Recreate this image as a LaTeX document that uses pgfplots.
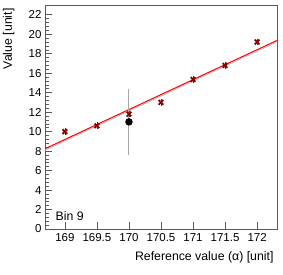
\documentclass[border=0pt]{standalone}
\usepackage{pgfplots}
\pgfplotsset{compat=1.18}
\usepackage{fontspec}
\setmainfont{Liberation Sans}
\begin{document}
\begin{tikzpicture}
\path[use as bounding box] (0pt,0pt) rectangle (283pt,274pt);
\begin{axis}[
  at={(45pt,45pt)}, anchor=south west,
  width=232pt, height=224pt, scale only axis,
  xmin=168.69, xmax=172.31, ymin=0, ymax=23,
  xtick={169,169.5,...,172}, ytick={0,2,...,22},
  minor y tick num=4,
  xticklabels={169,169.5,170,170.5,171,171.5,172},
  tick align=inside, tick pos=left,
  major tick length=7pt, minor tick length=3.5pt,
  axis line style={gray!70!black, line width=0.8pt},
  tick style={gray!70!black, line width=0.6pt},
  /pgf/number format/assume math mode=true,
  ticklabel style={font=\fontsize{11.5}{12}\selectfont},
  xticklabel style={yshift=-1pt},
  xlabel={Reference value (α) [unit]},
  ylabel={Value [unit]},
  label style={font=\fontsize{12.3}{13}\selectfont},
  xlabel style={at={(axis description cs:1,0)}, anchor=north east, yshift=-19pt},
  ylabel style={at={(axis description cs:0,1)}, anchor=south east, rotate=0, yshift=27pt},
  clip=true,
]
\addplot[gray!50, line width=1pt, forget plot] coordinates {(168.69,8.10) (172.31,19.22)};
\addplot[red, line width=1pt] coordinates {(168.69,8.24) (172.31,19.36)};
\addplot[gray!70, line width=1pt, mark=*, mark size=3.2pt, mark options={fill=black, draw=black},
  error bars/.cd, y dir=both, y explicit, error bar style={gray!70, line width=1pt}, error mark=none]
  coordinates {(170,11.0) +- (0,3.4)};
\addplot[only marks, mark=x, mark size=3.3pt, mark options={line width=1.8pt, draw=red!55!black},
  error bars/.cd, y dir=both, y explicit, error bar style={red!70!black, line width=0.6pt}, error mark=none]
  coordinates {
  (169,10.0) +- (0,0.35)
  (169.5,10.6) +- (0,0.35)
  (170,11.8) +- (0,0.35)
  (170.5,13.0) +- (0,0.35)
  (171,15.35) +- (0,0.35)
  (171.5,16.8) +- (0,0.35)
  (172,19.2) +- (0,0.35)
  };
\node[anchor=base west, font=\fontsize{12.3}{13}\selectfont] at (axis cs:168.8,0.9) {Bin 9};
\end{axis}
\end{tikzpicture}
\end{document}
